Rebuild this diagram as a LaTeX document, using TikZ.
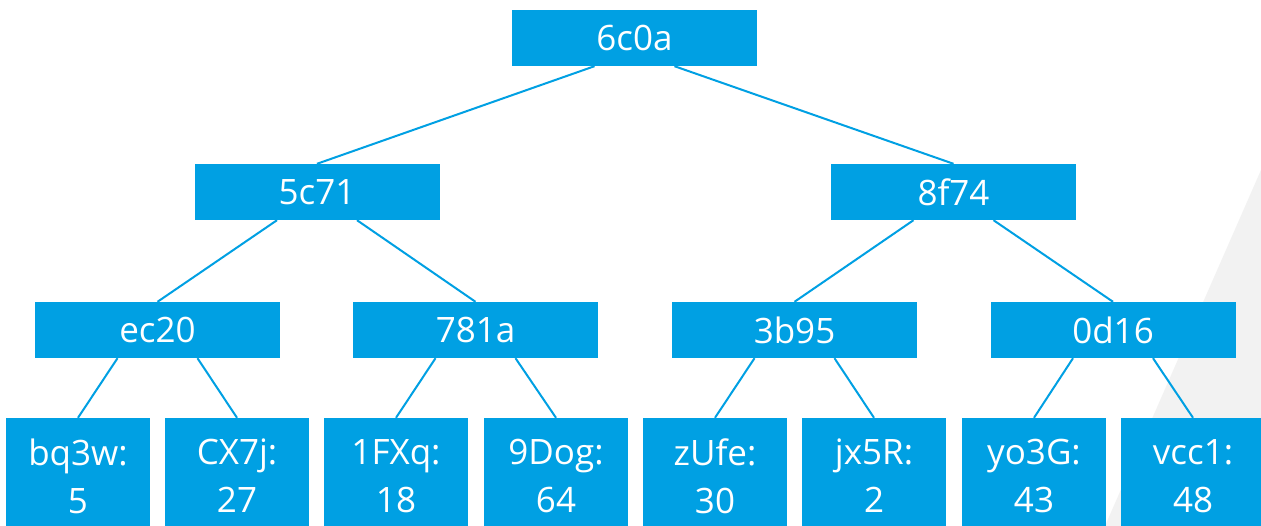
\documentclass[tikz,border=0pt]{standalone}
\usepackage{fontspec}
\setmainfont{Open Sans}
\definecolor{nodeblue}{RGB}{0,160,227}
\definecolor{bggray}{RGB}{242,242,242}
\tikzset{
  inner/.style={rectangle, fill=nodeblue, text=white, minimum width=245pt, minimum height=56pt, inner sep=0pt, font=\fontsize{35}{48}\selectfont},
  leaf/.style={rectangle, fill=nodeblue, text=white, minimum width=144pt, minimum height=116pt, inner sep=0pt, align=center, font=\fontsize{35}{48}\selectfont},
  edge/.style={draw=nodeblue, line width=2pt}
}
\begin{document}
\begin{tikzpicture}[x=1pt,y=-1pt]
\useasboundingbox (0,0) rectangle (1261,526);
\clip (0,0) rectangle (1261,526);
\fill[white] (0,0) rectangle (1261,526);
\fill[bggray] (1261,170) -- (1105,526) -- (1261,526) -- cycle;

\node[inner] (r) at (634.5,38) {6c0a};
\node[inner] (a) at (317,192) {5c71};
\node[inner] (b) at (953.5,192) {8f74};
\node[inner] (aa) at (157.5,330) {ec20};
\node[inner] (ab) at (475.5,330) {781a};
\node[inner] (ba) at (794.5,330) {3b95};
\node[inner] (bb) at (1113,330) {0d16};

\node[leaf] (l1) at (78,476) {bq3w:\\5};
\node[leaf] (l2) at (237,476) {CX7j:\\27};
\node[leaf] (l3) at (396,476) {1FXq:\\18};
\node[leaf] (l4) at (556,476) {9Dog:\\64};
\node[leaf] (l5) at (715,476) {zUfe:\\30};
\node[leaf] (l6) at (874,476) {jx5R:\\2};
\node[leaf] (l7) at (1034,476) {yo3G:\\43};
\node[leaf] (l8) at (1193,476) {vcc1:\\48};

\begin{scope}[on background layer/.style={}]
\draw[edge] ([xshift=-40pt]r.south) -- (a.north);
\draw[edge] ([xshift=40pt]r.south) -- (b.north);
\draw[edge] ([xshift=-40pt]a.south) -- (aa.north);
\draw[edge] ([xshift=40pt]a.south) -- (ab.north);
\draw[edge] ([xshift=-40pt]b.south) -- (ba.north);
\draw[edge] ([xshift=40pt]b.south) -- (bb.north);
\draw[edge] ([xshift=-40pt]aa.south) -- (l1.north);
\draw[edge] ([xshift=40pt]aa.south) -- (l2.north);
\draw[edge] ([xshift=-40pt]ab.south) -- (l3.north);
\draw[edge] ([xshift=40pt]ab.south) -- (l4.north);
\draw[edge] ([xshift=-40pt]ba.south) -- (l5.north);
\draw[edge] ([xshift=40pt]ba.south) -- (l6.north);
\draw[edge] ([xshift=-40pt]bb.south) -- (l7.north);
\draw[edge] ([xshift=40pt]bb.south) -- (l8.north);
\end{scope}
\end{tikzpicture}
\end{document}
